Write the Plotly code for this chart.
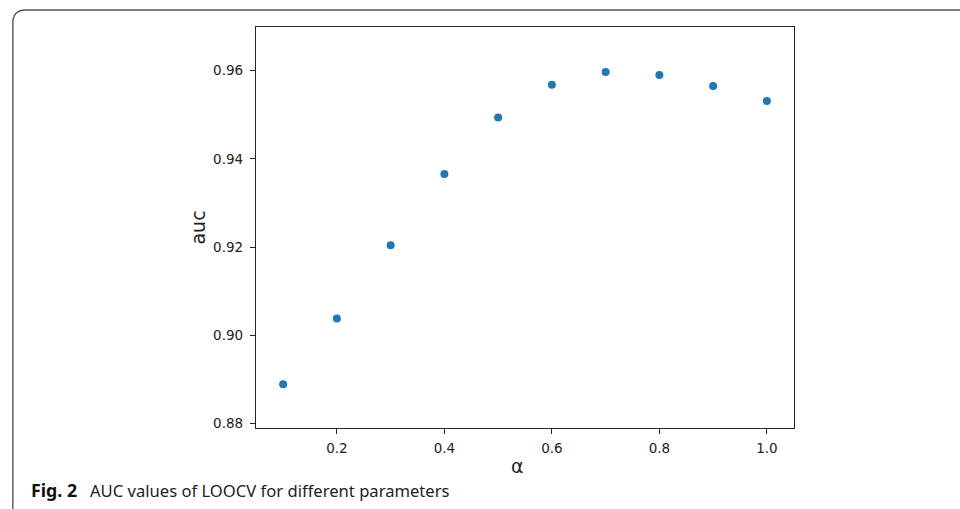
import plotly.graph_objects as go

alpha = [0.1, 0.2, 0.3, 0.4, 0.5, 0.6, 0.7, 0.8, 0.9, 1.0]
auc = [0.8889, 0.9038, 0.9204, 0.9366, 0.9494, 0.9568, 0.9597, 0.9590, 0.9565, 0.9531]
xticks = [0.2, 0.4, 0.6, 0.8, 1.0]
xticklabels = ["0.2", "0.4", "0.6", "0.8", "1.0"]
yticks = [0.88, 0.90, 0.92, 0.94, 0.96]
yticklabels = ["0.88", "0.90", "0.92", "0.94", "0.96"]
caption_bold = "Fig. 2"
caption_text = "AUC values of LOOCV for different parameters"

W, H = 960, 509
PL, PR, PT, PB = 256.0, 794.3, 27.3, 427.7


def px(x):
    return (x - PL) / (PR - PL)


def py(y):
    return (PB - y) / (PB - PT)


fig = go.Figure()
fig.add_trace(go.Scatter(
    x=alpha, y=auc, mode="markers",
    marker=dict(color="#1f77b4", size=8, line=dict(width=0)),
    showlegend=False, cliponaxis=False,
))

axis_common = dict(
    showline=True, linecolor="#262626", linewidth=1.3, mirror=True,
    ticks="outside", ticklen=5, tickwidth=1.1, tickcolor="#262626",
    showgrid=False, zeroline=False,
    tickfont=dict(family="DejaVu Sans", size=13.5, color="#222"),
)

fig.update_xaxes(range=[0.0495, 1.0505], tickvals=xticks, ticktext=xticklabels,
                 ticklabelstandoff=3, **axis_common)
fig.update_yaxes(range=[0.879, 0.9699], tickvals=yticks, ticktext=yticklabels,
                 ticklabelstandoff=4, **axis_common)

# rounded frame (top and left edges)
x0, y0, r = 12.7, 10.3, 13.0
path = (f"M {px(x0)},{py(H + 5)} L {px(x0)},{py(y0 + r)} "
        f"Q {px(x0)},{py(y0)} {px(x0 + r)},{py(y0)} L {px(W + 5)},{py(y0)}")
fig.add_shape(type="path", path=path, xref="paper", yref="paper",
              line=dict(color="#555", width=1.4))

annotations = [
    dict(text="auc", x=px(197), y=py(227.5), xref="paper", yref="paper",
         textangle=-90, showarrow=False, xanchor="center", yanchor="middle",
         font=dict(family="DejaVu Sans", size=19, color="#222")),
    dict(text="α", x=px(518), y=py(466), xref="paper", yref="paper",
         showarrow=False, xanchor="center", yanchor="middle",
         font=dict(family="DejaVu Sans", size=19, color="#222")),
    dict(text=f"<b>{caption_bold}</b>", x=px(29), y=py(490),
         xref="paper", yref="paper", showarrow=False,
         xanchor="left", yanchor="middle",
         font=dict(family="Noto Sans", size=17.8, color="#111")),
    dict(text=caption_text, x=px(88), y=py(490),
         xref="paper", yref="paper", showarrow=False,
         xanchor="left", yanchor="middle",
         font=dict(family="Noto Sans", size=16.6, color="#222")),
]

fig.update_layout(
    width=W, height=H,
    margin=dict(l=PL, r=W - PR, t=PT, b=H - PB, pad=0),
    paper_bgcolor="white", plot_bgcolor="white",
    annotations=annotations,
)

fig.write_html("out.html", config={"displayModeBar": False},
               post_script="document.body.style.margin='0';document.body.style.padding='0';")
